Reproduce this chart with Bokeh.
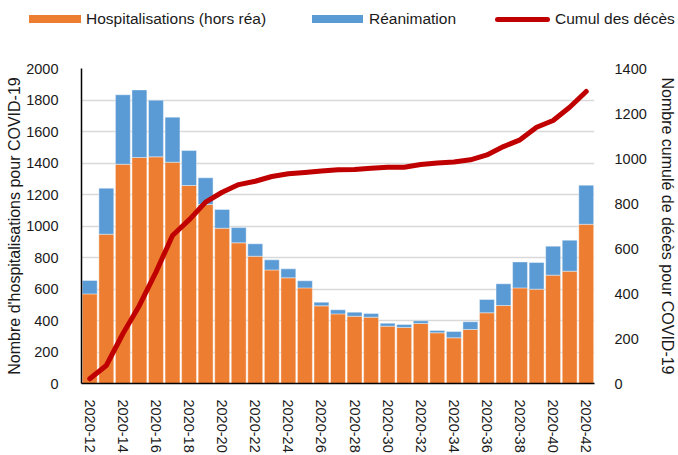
import numpy as np
from bokeh.plotting import figure
from bokeh.layouts import column
from bokeh.models import Range1d, LinearAxis, FixedTicker, ColumnDataSource, Div
from bokeh.embed import file_html
from bokeh.resources import INLINE

# ---- data -----------------------------------------------------------------
weeks = ["2020-12", "2020-13", "2020-14", "2020-15", "2020-16", "2020-17",
         "2020-18", "2020-19", "2020-20", "2020-21", "2020-22", "2020-23",
         "2020-24", "2020-25", "2020-26", "2020-27", "2020-28", "2020-29",
         "2020-30", "2020-31", "2020-32", "2020-33", "2020-34", "2020-35",
         "2020-36", "2020-37", "2020-38", "2020-39", "2020-40", "2020-41",
         "2020-42"]
hosp_hors_rea = [569, 948, 1392, 1435, 1439, 1405, 1257, 1137, 986, 893, 808,
                 721, 671, 607, 493, 442, 427, 421, 364, 356, 381, 322, 290,
                 343, 449, 495, 607, 599, 688, 713, 1011]
reanimation = [85, 292, 441, 429, 360, 286, 222, 169, 119, 97, 79, 64, 57, 45,
               23, 26, 26, 23, 19, 19, 17, 15, 40, 49, 84, 138, 165, 169, 184,
               197, 248]
cumul_deces = [21, 80, 221, 347, 495, 658, 727, 806, 850, 884, 899, 920, 932,
               938, 944, 950, 951, 957, 961, 961, 973, 980, 984, 994, 1016,
               1053, 1083, 1139, 1169, 1228, 1298]
left_ticks = [0, 200, 400, 600, 800, 1000, 1200, 1400, 1600, 1800, 2000]
right_ticks = [0, 200, 400, 600, 800, 1000, 1200, 1400]
shown_week_labels = ["2020-12", "2020-14", "2020-16", "2020-18", "2020-20",
                     "2020-22", "2020-24", "2020-26", "2020-28", "2020-30",
                     "2020-32", "2020-34", "2020-36", "2020-38", "2020-40",
                     "2020-42"]
legend_labels = ["Hospitalisations (hors réa)", "Réanimation",
                 "Cumul des décès"]

# ---- build ----------------------------------------------------------------
FONT = "Liberation Sans"
TXT = "#1a1a1a"
ORANGE = "#ED7D31"
BLUE = "#5B9BD5"
RED = "#C00000"
LEG_H = 40

xpos = np.arange(len(weeks))
hosp = np.array(hosp_hors_rea)
total = hosp + np.array(reanimation)
src = ColumnDataSource(dict(x=xpos, hosp=hosp, total=total,
                            deces=cumul_deces))

p = figure(width=678, height=455 - LEG_H, output_backend="svg",
           toolbar_location=None,
           x_range=Range1d(-0.5, len(weeks) - 0.5), y_range=Range1d(0, 2000),
           min_border_left=81, min_border_right=77, min_border_top=68 - LEG_H,
           min_border_bottom=72)
p.extra_y_ranges = {"deces": Range1d(0, 1400)}
p.outline_line_color = None
p.background_fill_color = "white"
p.border_fill_color = "white"

p.vbar(x="x", top="hosp", bottom=0, width=0.9, source=src,
       fill_color=ORANGE, line_color="white", line_alpha=0.5, line_width=0.8)
p.vbar(x="x", top="total", bottom="hosp", width=0.9, source=src,
       fill_color=BLUE, line_color="white", line_alpha=0.5, line_width=0.8)
p.line(x="x", y="deces", source=src, y_range_name="deces",
       line_color=RED, line_width=5, line_cap="round", line_join="round")

# grid
p.xgrid.grid_line_color = None
p.ygrid.grid_line_color = "#d9d9d9"
p.ygrid.grid_line_width = 1.5
p.ygrid.ticker = FixedTicker(ticks=left_ticks)

# x axis
xa = p.xaxis[0]
xa.ticker = FixedTicker(ticks=[weeks.index(w) for w in shown_week_labels])
xa.major_label_overrides = {weeks.index(w): w for w in shown_week_labels}
xa.major_label_orientation = "vertical"
xa.major_tick_line_color = None
xa.minor_tick_line_color = None
xa.axis_line_color = "black"
xa.axis_line_width = 1.5
xa.major_label_standoff = 10
xa.major_label_text_font = FONT
xa.major_label_text_font_size = "14.5px"
xa.major_label_text_color = TXT

# left axis
ya = p.yaxis[0]
ya.ticker = FixedTicker(ticks=left_ticks)
ya.major_tick_line_color = None
ya.minor_tick_line_color = None
ya.axis_line_color = "black"
ya.axis_line_width = 1.5
ya.major_label_standoff = 17
ya.major_label_text_font = FONT
ya.major_label_text_font_size = "14.5px"
ya.major_label_text_color = TXT
ya.axis_label = "Nombre d'hospitalisations pour COVID-19"
ya.axis_label_text_font = FONT
ya.axis_label_text_font_size = "16px"
ya.axis_label_text_font_style = "normal"
ya.axis_label_text_color = TXT
ya.axis_label_standoff = 0

# right axis
ra = LinearAxis(y_range_name="deces", ticker=FixedTicker(ticks=right_ticks))
ra.major_tick_line_color = None
ra.minor_tick_line_color = None
ra.axis_line_color = None
ra.major_label_standoff = 14
ra.major_label_text_font = FONT
ra.major_label_text_font_size = "14.5px"
ra.major_label_text_color = TXT
ra.axis_label = "Nombre cumulé de décès pour COVID-19"
ra.axis_label_text_font = FONT
ra.axis_label_text_font_size = "16px"
ra.axis_label_text_font_style = "normal"
ra.axis_label_text_color = TXT
ra.axis_label_standoff = 9
p.add_layout(ra, "right")

# ---- legend strip above the chart ------------------------------------------
def swatch(left, top, width, height, color, radius=0):
    return ("<span style='position:absolute;left:%spx;top:%spx;width:%spx;"
            "height:%spx;background:%s;border-radius:%spx'></span>"
            % (left, top, width, height, color, radius))


def label(left, text):
    return ("<span style='position:absolute;left:%spx;top:10px;"
            "line-height:18px;white-space:nowrap'>%s</span>" % (left, text))


legend_html = (
    "<div style=\"position:relative;width:678px;height:%dpx;"
    "font-family:'Liberation Sans';font-size:15.5px;color:%s\">" % (LEG_H, TXT)
    + swatch(29, 15, 52, 8, ORANGE) + label(86, legend_labels[0])
    + swatch(312, 15, 51, 8, BLUE) + label(369, legend_labels[1])
    + swatch(495, 16.5, 55, 5, RED, 2.5) + label(555, legend_labels[2])
    + "</div>")
leg = Div(text=legend_html, width=678, height=LEG_H, margin=0)

layout = column(leg, p, spacing=0)
open("out.html", "w").write(file_html(layout, INLINE))
